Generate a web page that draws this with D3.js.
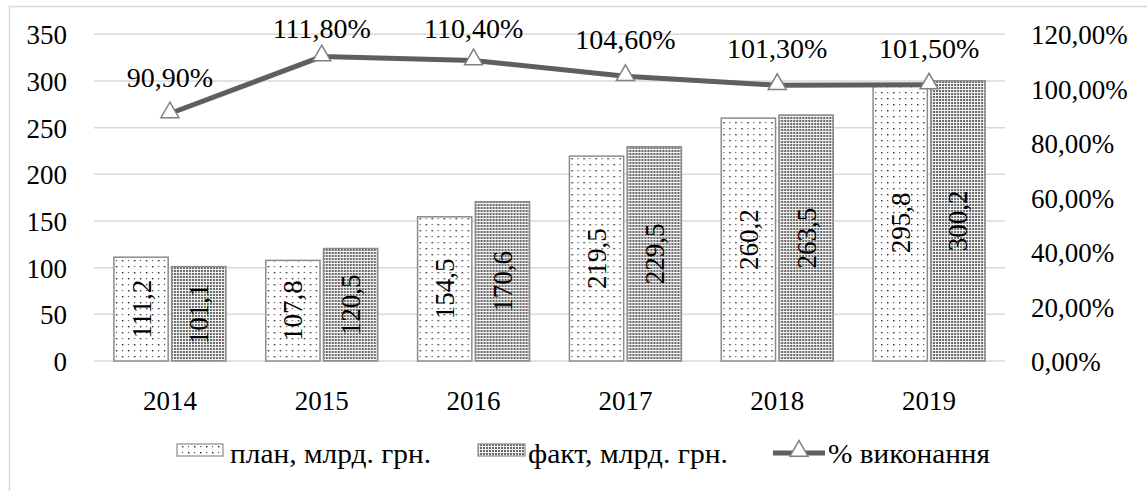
<!DOCTYPE html>
<html>
<head>
<meta charset="utf-8">
<script src="https://d3js.org/d3.v7.min.js"></script>
<style>
	body { margin: 0; background: #fff; }
	svg text { font-family: "Liberation Serif", "DejaVu Serif", serif; fill: #000; }
</style>
</head>
<body>
<svg id="chart" width="1147" height="491"></svg>
<script>
	// chart data
	var years = ["2014", "2015", "2016", "2017", "2018", "2019"];
	var plan = [111.2, 107.8, 154.5, 219.5, 260.2, 295.8];
	var fact = [101.1, 120.5, 170.6, 229.5, 263.5, 300.2];
	var pct = [0.909, 1.118, 1.104, 1.046, 1.013, 1.015];
	var leftTicks = [0, 50, 100, 150, 200, 250, 300, 350];
	var rightTicks = [0, 0.2, 0.4, 0.6, 0.8, 1.0, 1.2];
	var seriesNames = ["план, млрд. грн.", "факт, млрд. грн.", "% виконання"];

	var svg = d3.select("#chart");
	var plotL = 94, plotR = 1005, plotT = 34.3, plotB = 361;
	var fs = "27px";

	var comma = function(v, d){ return v.toFixed(d).replace(".", ","); };

	// outer frame
	svg.append("rect").attr("x", 9.5).attr("y", 6.5).attr("width", 1160).attr("height", 500)
		.attr("fill", "none").attr("stroke", "#d9d9d9").attr("stroke-width", 1.5);

	// patterns
	var defs = svg.append("defs");
	var pPlan = defs.append("pattern").attr("id", "pPlan").attr("patternUnits", "userSpaceOnUse")
		.attr("width", 12).attr("height", 12);
	pPlan.append("rect").attr("width", 12).attr("height", 12).attr("fill", "#fff");
	pPlan.append("rect").attr("x", 2).attr("y", 2).attr("width", 1.4).attr("height", 1.4).attr("fill", "#222");
	pPlan.append("rect").attr("x", 8).attr("y", 8).attr("width", 1.4).attr("height", 1.4).attr("fill", "#222");
	pPlan.append("rect").attr("x", 8).attr("y", 2).attr("width", 1.1).attr("height", 1.1).attr("fill", "#444");
	pPlan.append("rect").attr("x", 2).attr("y", 8).attr("width", 1.1).attr("height", 1.1).attr("fill", "#444");

	var pFact = defs.append("pattern").attr("id", "pFact").attr("patternUnits", "userSpaceOnUse")
		.attr("width", 3).attr("height", 3);
	pFact.append("rect").attr("width", 3).attr("height", 3).attr("fill", "#f2f2f2");
	pFact.append("rect").attr("x", 0).attr("y", 0).attr("width", 2).attr("height", 2).attr("fill", "#6a6a6a");

	// scales
	var x = d3.scaleBand().domain(years).range([plotL, plotR]);
	var yL = d3.scaleLinear().domain([0, 350]).range([plotB, plotT]);
	var yR = d3.scaleLinear().domain([0, 1.2]).range([plotB, plotT]);
	var groupW = 112;
	var x1 = d3.scaleBand().domain(["plan", "fact"]).range([0, groupW]).paddingInner(0.06);

	// gridlines
	svg.append("g").selectAll("line").data(leftTicks).join("line")
		.attr("x1", plotL).attr("x2", plotR)
		.attr("y1", function(d){ return yL(d); }).attr("y2", function(d){ return yL(d); })
		.attr("stroke", "#d9d9d9").attr("stroke-width", 1.5);

	// left axis
	var axL = svg.append("g").attr("transform", "translate(" + plotL + ",0)")
		.call(d3.axisLeft(yL).tickValues(leftTicks).tickSize(0).tickPadding(27).tickFormat(function(d){ return d; }));
	axL.select(".domain").remove();
	axL.selectAll("text").style("font-size", fs).attr("dy", "0.35em");

	// right axis
	var axR = svg.append("g").attr("transform", "translate(" + plotR + ",0)")
		.call(d3.axisRight(yR).tickValues(rightTicks).tickSize(0).tickPadding(26).tickFormat(function(d){ return comma(d * 100, 2) + "%"; }));
	axR.select(".domain").remove();
	axR.selectAll("text").style("font-size", fs).attr("dy", "0.35em");

	// x axis
	var axX = svg.append("g").attr("transform", "translate(0," + plotB + ")")
		.call(d3.axisBottom(x).tickSize(0).tickPadding(30));
	axX.select(".domain").remove();
	axX.selectAll("text").style("font-size", fs);

	// bars
	var rows = years.map(function(y, i){ return {year: y, plan: plan[i], fact: fact[i]}; });
	var groups = svg.append("g").selectAll("g").data(rows).join("g")
		.attr("transform", function(d){ return "translate(" + (x(d.year) + (x.bandwidth() - groupW) / 2) + ",0)"; });

	["plan", "fact"].forEach(function(k){
		groups.append("rect")
			.attr("x", x1(k)).attr("width", x1.bandwidth())
			.attr("y", function(d){ return yL(d[k]); })
			.attr("height", function(d){ return yL(0) - yL(d[k]); })
			.attr("fill", k == "plan" ? "url(#pPlan)" : "url(#pFact)")
			.attr("stroke", "#8c8c8c").attr("stroke-width", 1.5);
		groups.append("text")
			.attr("transform", function(d){
				var cx = x1(k) + x1.bandwidth() / 2;
				var cy = (yL(d[k]) + yL(0)) / 2;
				return "translate(" + cx + "," + cy + ") rotate(-90)";
			})
			.attr("text-anchor", "middle").attr("dy", "0.35em")
			.style("font-size", "27px")
			.text(function(d){ return comma(d[k], 1); });
	});

	// line
	var pts = years.map(function(y, i){ return {year: y, v: pct[i]}; });
	var cx = function(d){ return x(d.year) + x.bandwidth() / 2; };
	svg.append("path").datum(pts)
		.attr("d", d3.line().x(cx).y(function(d){ return yR(d.v); }))
		.attr("fill", "none").attr("stroke", "#5f5f5f").attr("stroke-width", 5);

	var tri = d3.symbol().type(d3.symbolTriangle).size(140);
	svg.append("g").selectAll("path").data(pts).join("path")
		.attr("d", tri)
		.attr("transform", function(d){ return "translate(" + cx(d) + "," + (yR(d.v) - 1) + ")"; })
		.attr("fill", "#fff").attr("stroke", "#808080").attr("stroke-width", 1.5);

	svg.append("g").selectAll("text").data(pts).join("text")
		.attr("x", cx)
		.attr("y", function(d){ return Math.max(yR(d.v) - 27, 38); })
		.attr("text-anchor", "middle")
		.style("font-size", "28px")
		.text(function(d){ return comma(d.v * 100, 2) + "%"; });

	// legend
	var lg = svg.append("g");
	lg.append("rect").attr("x", 177).attr("y", 444).attr("width", 46).attr("height", 12)
		.attr("fill", "url(#pPlan)").attr("stroke", "#8c8c8c").attr("stroke-width", 1.2);
	lg.append("text").attr("x", 230).attr("y", 463).attr("textLength", 201).attr("lengthAdjust", "spacingAndGlyphs")
		.style("font-size", fs).text(seriesNames[0]);
	lg.append("rect").attr("x", 478).attr("y", 444).attr("width", 47).attr("height", 12)
		.attr("fill", "url(#pFact)").attr("stroke", "#8c8c8c").attr("stroke-width", 1.2);
	lg.append("text").attr("x", 528).attr("y", 463).attr("textLength", 200).attr("lengthAdjust", "spacingAndGlyphs")
		.style("font-size", fs).text(seriesNames[1]);
	lg.append("line").attr("x1", 773).attr("x2", 825).attr("y1", 453).attr("y2", 453)
		.attr("stroke", "#5f5f5f").attr("stroke-width", 5);
	lg.append("path").attr("d", tri).attr("transform", "translate(799,451)")
		.attr("fill", "#fff").attr("stroke", "#808080").attr("stroke-width", 1.5);
	lg.append("text").attr("x", 828).attr("y", 463).attr("textLength", 162).attr("lengthAdjust", "spacingAndGlyphs")
		.style("font-size", fs).text(seriesNames[2]);
</script>
</body>
</html>
